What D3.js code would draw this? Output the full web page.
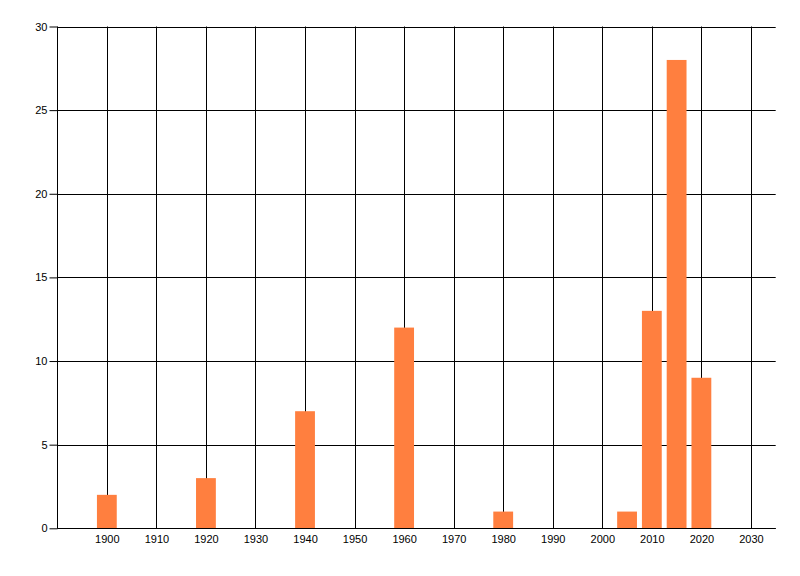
<!DOCTYPE html>
<html><head><meta charset="utf-8">
<script src="https://cdn.jsdelivr.net/npm/d3@7"></script>
<style>body{margin:0;background:#fff}</style>
</head><body>
<svg id="c" width="800" height="576"></svg>
<script>
const years = [1900, 1920, 1940, 1960, 1980, 2005, 2010, 2015, 2020];
const counts = [2, 3, 7, 12, 1, 1, 13, 28, 9];
const xTicks = [1900, 1910, 1920, 1930, 1940, 1950, 1960, 1970, 1980, 1990, 2000, 2010, 2020, 2030];
const yTicks = [0, 5, 10, 15, 20, 25, 30];

const svg = d3.select("#c");
const pL = 57.3, pR = 775.7, pT = 26.5, pB = 528.3;
const x = d3.scaleLinear().domain([1890, 2035]).range([pL, pR]);
const y = d3.scaleLinear().domain([0, 30]).range([pB, pT]);
const font = "Liberation Sans, Arial, sans-serif";

// horizontal gridlines
svg.append("g").selectAll("line").data(yTicks).join("line")
  .attr("x1", pL).attr("x2", pR)
  .attr("y1", d => Math.round(y(d)) + 0.5).attr("y2", d => Math.round(y(d)) + 0.5)
  .attr("stroke", "#000").attr("stroke-width", 1);
// vertical gridlines
svg.append("g").selectAll("line").data(xTicks).join("line")
  .attr("x1", d => Math.round(x(d)) + 0.5).attr("x2", d => Math.round(x(d)) + 0.5)
  .attr("y1", pT).attr("y2", pB)
  .attr("stroke", "#000").attr("stroke-width", 1);

// bars
const bw = x(1902) - x(1898);
svg.append("g").selectAll("rect").data(years).join("rect")
  .attr("x", (d) => x(d) - bw / 2)
  .attr("width", bw)
  .attr("y", (d, i) => y(counts[i]))
  .attr("height", (d, i) => y(0) - y(counts[i]))
  .attr("fill", "#FF7F3F");

// y axis
const ya = d3.axisLeft(y).tickValues(yTicks).tickSize(8).tickPadding(2);
const gy = svg.append("g").attr("transform", `translate(${Math.round(pL)+0.5},0)`).call(ya);
gy.select(".domain").attr("d", `M0,${pT}V${pB}`).attr("stroke", "#000");
gy.selectAll(".tick line").attr("stroke", "#000");
gy.selectAll("text").attr("font-family", font).attr("font-size", 11).attr("fill", "#000");

// x axis
const xa = d3.axisBottom(x).tickValues(xTicks).tickFormat(d3.format("d")).tickSize(0).tickPadding(7);
const gx = svg.append("g").attr("transform", `translate(0,${Math.round(pB)+0.5})`).call(xa);
gx.select(".domain").attr("d", `M${pL},0H${pR}`).attr("stroke", "#000");
gx.selectAll("text").attr("font-family", font).attr("font-size", 11).attr("fill", "#000");
</script>
</body></html>
